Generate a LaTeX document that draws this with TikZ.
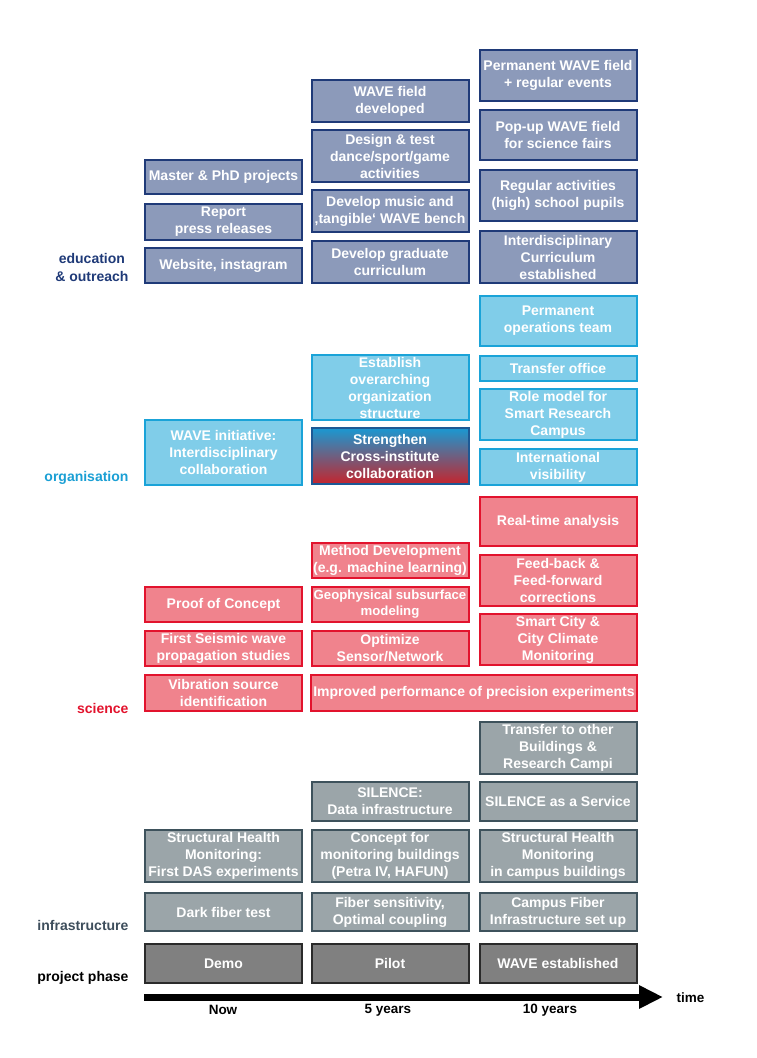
\documentclass[tikz,border=0pt]{standalone}
\usepackage{fontspec}
\setmainfont{Liberation Sans}
\usetikzlibrary{arrows.meta}

\definecolor{edufill}{HTML}{8C9ABA}
\definecolor{eduline}{HTML}{1F3A78}
\definecolor{orgfill}{HTML}{80CDE9}
\definecolor{orgline}{HTML}{1AA3D8}
\definecolor{scifill}{HTML}{F0838D}
\definecolor{sciline}{HTML}{E2132D}
\definecolor{inffill}{HTML}{9BA5A9}
\definecolor{infline}{HTML}{3E525C}
\definecolor{phasefill}{HTML}{808080}
\definecolor{phaseline}{HTML}{2A2A2A}
\definecolor{gradtop}{HTML}{1A98D2}
\definecolor{gradbot}{HTML}{C4252D}
\definecolor{edutext}{HTML}{1F3A78}
\definecolor{orgtext}{HTML}{1A9FD4}
\definecolor{scitext}{HTML}{E2132D}
\definecolor{inftext}{HTML}{3E4E5C}

\begin{document}
\begin{tikzpicture}[x=1pt,y=-1pt,
    every text node part/.style={align=center},
    box/.style={draw, line width=2pt, text=white, inner sep=0pt,
      minimum width=157pt, font=\bfseries\fontsize{14}{17}\selectfont},
    edubox/.style={box, fill=edufill, draw=eduline},
    orgbox/.style={box, fill=orgfill, draw=orgline},
    scibox/.style={box, fill=scifill, draw=sciline},
    infbox/.style={box, fill=inffill, draw=infline},
    phasebox/.style={box, fill=phasefill, draw=phaseline},
    lbl/.style={anchor=east, align=right, font=\bfseries\fontsize{14}{18}\selectfont},
    yearlbl/.style={font=\bfseries\fontsize{13.5}{16}\selectfont}]

    \useasboundingbox (0,0) rectangle (756,1058);

    % --------------------------------------------------------- %
    % ------------- education & outreach
    % --------------------------------------------------------- %
    \node[lbl, text=edutext] (edulbl) at (132,267) {education\\ \& outreach};
    % --- Now
    \node[edubox, minimum height=34pt] (edu1a) at (223.5,177) {Master \& PhD projects};
    \node[edubox, minimum height=36pt] (edu1b) at (223.5,222) {Report\\press releases};
    \node[edubox, minimum height=35pt] (edu1c) at (223.5,265.5) {Website, instagram};
    % --- 5 years
    \node[edubox, minimum height=42pt] (edu2a) at (390,101) {WAVE field\\developed};
    \node[edubox, minimum height=52pt] (edu2b) at (390,156) {Design \& test\\dance/sport/game\\activities};
    \node[edubox, minimum height=42pt] (edu2c) at (390,211) {Develop music and\\‚tangible‘ WAVE bench};
    \node[edubox, minimum height=42pt] (edu2d) at (390,262) {Develop graduate\\curriculum};
    % --- 10 years
    \node[edubox, minimum height=51pt] (edu3a) at (558,75.5) {Permanent WAVE field\\+ regular events};
    \node[edubox, minimum height=50pt] (edu3b) at (558,135) {Pop-up WAVE field\\for science fairs};
    \node[edubox, minimum height=51pt] (edu3c) at (558,195.5) {Regular activities\\(high) school pupils};
    \node[edubox, minimum height=52pt] (edu3d) at (558,257) {Interdisciplinary\\Curriculum\\established};

    % --------------------------------------------------------- %
    % ------------- organisation
    % --------------------------------------------------------- %
    \node[lbl, text=orgtext] (orglbl) at (132,478) {organisation};
    \node[orgbox, minimum height=65pt] (org1) at (223.5,452.5) {WAVE initiative:\\Interdisciplinary\\collaboration};
    \node[orgbox, minimum height=65pt] (org2a) at (390,387.5) {Establish\\overarching\\organization\\structure};
    \node[box, minimum height=56pt, draw=eduline!70!orgline, top color=gradtop, bottom color=gradbot] (org2b) at (390,456) {Strengthen\\Cross-institute\\collaboration};
    \node[orgbox, minimum height=50pt] (org3a) at (558,321) {Permanent\\operations team};
    \node[orgbox, minimum height=25pt] (org3b) at (558,368.5) {Transfer office};
    \node[orgbox, minimum height=51pt] (org3c) at (558,414.5) {Role model for\\Smart Research\\Campus};
    \node[orgbox, minimum height=36pt] (org3d) at (558,467) {International\\visibility};

    % --------------------------------------------------------- %
    % ------------- science
    % --------------------------------------------------------- %
    \node[lbl, text=scitext] (scilbl) at (132,708) {science};
    \node[scibox, minimum height=35pt] (sci1a) at (223.5,604.5) {Proof of Concept};
    \node[scibox, minimum height=35pt] (sci1b) at (223.5,648.5) {First Seismic wave\\propagation studies};
    \node[scibox, minimum height=36pt] (sci1c) at (223.5,693) {Vibration source\\identification};
    \node[scibox, minimum height=35pt] (sci2a) at (390,560.5) {Method Development\\(e.g. machine learning)};
    \node[scibox, minimum height=35pt, font=\bfseries\fontsize{13.2}{16}\selectfont] (sci2b) at (390,604.5) {Geophysical subsurface\\modeling};
    \node[scibox, minimum height=35pt] (sci2c) at (390,648.5) {Optimize\\Sensor/Network};
    \node[scibox, minimum height=36pt, minimum width=326pt] (sci23) at (474,693) {Improved performance of precision experiments};
    \node[scibox, minimum height=49pt] (sci3a) at (558,521.5) {Real-time analysis};
    \node[scibox, minimum height=51pt] (sci3b) at (558,580.5) {Feed-back \&\\Feed-forward\\corrections};
    \node[scibox, minimum height=51pt] (sci3c) at (558,639.5) {Smart City \&\\City Climate\\Monitoring};

    % --------------------------------------------------------- %
    % ------------- infrastructure
    % --------------------------------------------------------- %
    \node[lbl, text=inftext] (inflbl) at (132,925) {infrastructure};
    \node[infbox, minimum height=52pt] (inf1a) at (223.5,856) {Structural Health\\Monitoring:\\First DAS experiments};
    \node[infbox, minimum height=38pt] (inf1b) at (223.5,912) {Dark fiber test};
    \node[infbox, minimum height=39pt] (inf2a) at (390,801.5) {SILENCE:\\Data infrastructure};
    \node[infbox, minimum height=52pt] (inf2b) at (390,856) {Concept for\\monitoring buildings\\(Petra IV, HAFUN)};
    \node[infbox, minimum height=38pt] (inf2c) at (390,912) {Fiber sensitivity,\\Optimal coupling};
    \node[infbox, minimum height=52pt] (inf3a) at (558,748) {Transfer to other\\Buildings \&\\Research Campi};
    \node[infbox, minimum height=39pt] (inf3b) at (558,801.5) {SILENCE as a Service};
    \node[infbox, minimum height=52pt] (inf3c) at (558,856) {Structural Health\\Monitoring\\in campus buildings};
    \node[infbox, minimum height=38pt] (inf3d) at (558,912) {Campus Fiber\\Infrastructure set up};

    % --------------------------------------------------------- %
    % ------------- project phase + time axis
    % --------------------------------------------------------- %
    \node[lbl, text=black] (phaselbl) at (132,978) {project phase};
    \node[phasebox, minimum height=39pt] (demo) at (223.5,963.5) {Demo};
    \node[phasebox, minimum height=39pt] (pilot) at (390,963.5) {Pilot};
    \node[phasebox, minimum height=39pt] (established) at (558,963.5) {WAVE established};

    \coordinate (tstart) at (144,997);
    \coordinate (tend) at (663,997);
    \draw[line width=7pt, -{Triangle[length=24pt,width=22pt]}] (tstart) -- (tend);
    \node[yearlbl, anchor=west] (time) at (673,998) {time};
    \node[yearlbl] (now) at (223,1010) {Now};
    \node[yearlbl] (five) at (388,1010) {5 years};
    \node[yearlbl] (ten) at (550,1010) {10 years};

  \end{tikzpicture}
\end{document}
